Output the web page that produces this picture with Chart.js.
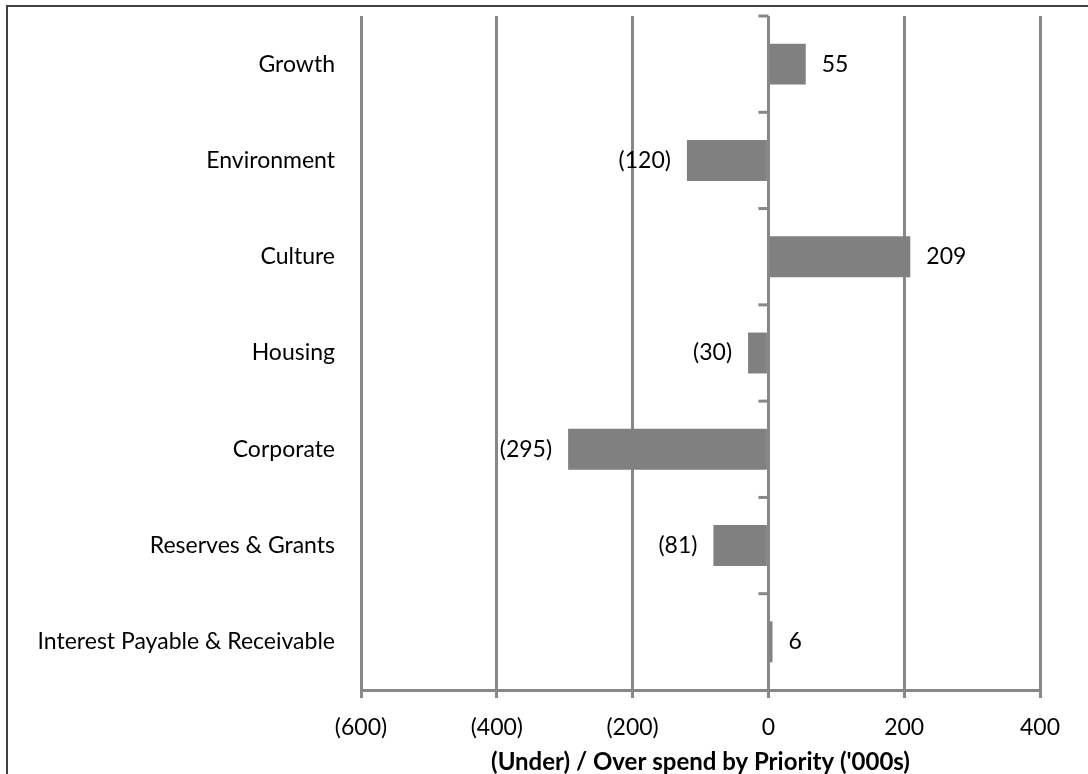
<!DOCTYPE html>
<html>
<head>
<meta charset="utf-8">
<script src="https://cdn.jsdelivr.net/npm/chart.js@4/dist/chart.umd.min.js"></script>
<style>
    html, body { margin: 0; padding: 0; background: #fff; overflow: hidden; }
    #wrap { position: relative; width: 1088px; height: 774px; }
    #frame { position: absolute; left: 6px; top: 5px; width: 1200px; height: 900px;
             border-top: 2px solid #404040; border-left: 2px solid #404040; }
    #myChart { position: absolute; left: 0; top: 0; }
</style>
</head>
<body>
<div id="wrap">
    <div id="frame"></div>
    <canvas id="myChart" width="1088" height="774"></canvas>
</div>
<script>
const priorities = ['Growth', 'Environment', 'Culture', 'Housing', 'Corporate', 'Reserves & Grants', 'Interest Payable & Receivable'];
const spend = [55, -120, 209, -30, -295, -81, 6];
const axisMin = -600;
const axisMax = 400;
const axisStep = 200;
const axisTitle = "(Under) / Over spend by Priority ('000s)";

const FONT = 'Lato';
const GRID = '#878787';

function bracket(v) {
    return v < 0 ? '(' + Math.abs(v) + ')' : String(v);
}

// little tick marks on the zero axis between categories
const zeroTicks = {
    id: 'zeroTicks',
    afterDraw(chart) {
        const x = chart.scales.x.getPixelForValue(0);
        const y = chart.scales.y;
        const ctx = chart.ctx;
        ctx.save();
        ctx.strokeStyle = GRID;
        ctx.lineWidth = 3;
        for (let i = 0; i < priorities.length; i++) {
            let py = y.getPixelForValue(i - 0.5);
            ctx.beginPath();
            ctx.moveTo(x - 10, py);
            ctx.lineTo(x, py);
            ctx.stroke();
        }
        ctx.restore();
    }
};

const barLabels = {
    id: 'barLabels',
    afterDatasetsDraw(chart) {
        const ctx = chart.ctx;
        const meta = chart.getDatasetMeta(0);
        ctx.save();
        ctx.font = '23px ' + FONT;
        ctx.fillStyle = '#000';
        ctx.textBaseline = 'middle';
        meta.data.forEach((bar, i) => {
            let v = spend[i];
            if (v >= 0) {
                ctx.textAlign = 'left';
                ctx.fillText(bracket(v), bar.x + 16, bar.y);
            } else {
                ctx.textAlign = 'right';
                ctx.fillText(bracket(v), bar.x - 16, bar.y);
            }
        });
        ctx.restore();
    }
};

new Chart(document.getElementById('myChart'), {
    type: 'bar',
    data: {
        labels: priorities,
        datasets: [{
            data: spend,
            backgroundColor: '#808080',
            borderWidth: 0,
            barPercentage: 1,
            categoryPercentage: 0.425
        }]
    },
    options: {
        indexAxis: 'y',
        responsive: false,
        animation: false,
        devicePixelRatio: 1,
        layout: { padding: { top: 16, right: 48, left: 0, bottom: 0 } },
        plugins: {
            legend: { display: false },
            tooltip: { enabled: false }
        },
        scales: {
            x: {
                min: axisMin,
                max: axisMax,
                afterFit: (scale) => { scale.height = 84; },
                ticks: {
                    stepSize: axisStep,
                    padding: 16,
                    color: '#000',
                    font: { family: FONT, size: 23 },
                    callback: (v) => bracket(v)
                },
                grid: { color: GRID, lineWidth: 3, tickLength: 8, drawTicks: true },
                border: { display: true, color: GRID, width: 3 },
                title: {
                    display: true,
                    text: axisTitle,
                    color: '#000',
                    font: { family: FONT, size: 24, weight: 'bold' },
                    padding: { top: 0, bottom: -3 }
                }
            },
            y: {
                afterFit: (scale) => {
                    scale.width = 361;
                    scale.paddingTop = 0;
                    scale.paddingBottom = 0;
                },
                grid: { display: false, drawTicks: false },
                border: { display: false },
                ticks: {
                    padding: 26,
                    color: '#000',
                    font: { family: FONT, size: 23 }
                }
            }
        }
    },
    plugins: [zeroTicks, barLabels]
});
</script>
</body>
</html>
